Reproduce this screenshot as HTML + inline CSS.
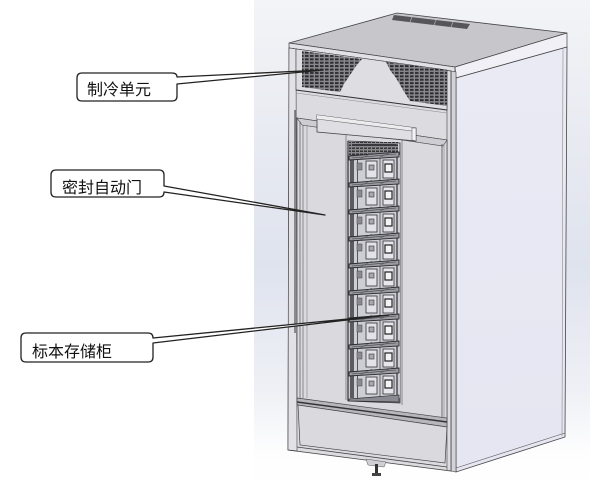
<!DOCTYPE html>
<html><head><meta charset="utf-8">
<style>
html,body{margin:0;padding:0;background:#fff;}
svg{display:block;}
text{font-family:"Liberation Sans","Noto Sans CJK SC",sans-serif;font-size:16px;fill:#111;}
</style></head><body>
<svg width="608" height="486" viewBox="0 0 608 486" xmlns="http://www.w3.org/2000/svg">
<defs>
<linearGradient id="bg" x1="0" y1="0" x2="0" y2="1">
<stop offset="0" stop-color="#f3f4f7"/>
<stop offset="0.3" stop-color="#e7eaf1"/>
<stop offset="0.55" stop-color="#dfe3ee"/>
<stop offset="0.8" stop-color="#eef0f5"/>
<stop offset="0.93" stop-color="#fdfdfe"/>
<stop offset="1" stop-color="#ffffff"/>
</linearGradient>
<linearGradient id="side" x1="0" y1="0" x2="0" y2="1">
<stop offset="0" stop-color="#eaeaf5"/>
<stop offset="1" stop-color="#e6e6f2"/>
</linearGradient>
<pattern id="vent" width="5" height="3.4" patternUnits="userSpaceOnUse">
<rect width="5" height="3.4" fill="#8a8a8e"/>
<rect x="0" y="0.6" width="3.6" height="1.9" fill="#2a2a2e"/>
</pattern>
<pattern id="mech" width="4" height="3" patternUnits="userSpaceOnUse">
<rect width="4" height="3" fill="#8a8a90"/>
<rect x="0" y="0.5" width="3" height="1.5" fill="#333"/>
</pattern>
<g id="tier">
<rect x="348" y="0" width="52" height="27" fill="#cdcdd4"/>
<rect x="350" y="0" width="4" height="27" fill="#5a5a60"/>
<rect x="357" y="0" width="1" height="27" fill="#55555b"/>
<rect x="357" y="8" width="5" height="7" fill="#8a8a90" stroke="#444" stroke-width="0.5"/>
<rect x="366" y="6" width="11" height="17" fill="#e2e2e8" stroke="#333" stroke-width="0.8"/>
<rect x="369" y="10" width="5" height="5" fill="#a8a8ae" stroke="#333" stroke-width="0.6"/>
<rect x="379" y="2" width="2" height="24" fill="#9a9aa2"/>
<rect x="383" y="5" width="11" height="18" fill="#e6e6ec" stroke="#333" stroke-width="0.8"/>
<rect x="385" y="9" width="7" height="8" fill="#f4f4f6" stroke="#222" stroke-width="1.2"/>
<rect x="396" y="0" width="2" height="27" fill="#6e6e74"/>
<polygon points="349,1 399,-3 399,2 349,5" fill="#9a9aa2" stroke="#2a2a2e" stroke-width="0.9"/>
<line x1="352" y1="3" x2="396" y2="-1" stroke="#444" stroke-width="0.6"/>
<line x1="360" y1="4" x2="372" y2="-2" stroke="#555" stroke-width="0.5"/>
<line x1="380" y1="2" x2="392" y2="-3" stroke="#555" stroke-width="0.5"/>
</g>
</defs>

<rect x="254" y="0" width="336" height="486" fill="url(#bg)"/>

<!-- lid -->
<polygon points="289,43 397,13 567,33 455,67" fill="#c6c6cb" stroke="#444" stroke-width="0.8"/>
<polygon points="394,15 470,24 467,29 392,20" fill="#55555a"/>
<line x1="412" y1="17" x2="410" y2="22" stroke="#aaa" stroke-width="0.8"/>
<line x1="436" y1="20" x2="434" y2="25" stroke="#aaa" stroke-width="0.8"/>
<line x1="453" y1="22" x2="451" y2="27" stroke="#aaa" stroke-width="0.8"/>
<polygon points="289,43 455,67 455,72 289,48" fill="#e2e2e6" stroke="#444" stroke-width="0.7"/>
<polygon points="455,67 567,33 567,47 456,78" fill="#f0f0f6" stroke="#444" stroke-width="0.7"/>

<!-- right side panel -->
<polygon points="456,78 567,47 565,437 456,472" fill="url(#side)" stroke="#444" stroke-width="0.8"/>
<line x1="456" y1="468" x2="565" y2="433" stroke="#555" stroke-width="0.6"/>
<line x1="563" y1="48" x2="562" y2="436" stroke="#777" stroke-width="0.5"/>

<!-- front corner strip -->
<polygon points="451,71 456,72 456,472 451,471" fill="#d2d2d8" stroke="#444" stroke-width="0.6"/>

<!-- front face -->
<polygon points="289,48 451,71 451,471 288,450" fill="#dcdce0" stroke="#444" stroke-width="0.8"/>
<polygon points="289,48 296,49 297,451 288,450" fill="#e2e2e6" stroke="#444" stroke-width="0.6"/>
<line x1="295" y1="110" x2="295" y2="333" stroke="#333" stroke-width="1"/>
<line x1="447" y1="70" x2="447" y2="470" stroke="#444" stroke-width="0.6"/>

<!-- refrigeration unit -->
<polygon points="296,49 447,70 447,110 296,90" fill="#dddde2" stroke="#444" stroke-width="0.6"/>
<polygon points="302,51 362,59 356,66 350,75 344,84 340,92 302,87" fill="url(#vent)"/>
<polygon points="386,62 447,70 447,106 410,101 403,90 396,78 390,70" fill="url(#vent)"/>
<line x1="296" y1="90" x2="447" y2="110" stroke="#333" stroke-width="1"/>
<line x1="296" y1="93" x2="447" y2="113" stroke="#888" stroke-width="0.5"/>

<!-- door -->
<polygon points="297,118 447,140 447,420 297,400" fill="#d9d9de" stroke="#444" stroke-width="0.7"/>
<polygon points="297,118 447,140 443,146 302,125" fill="#cdcdd3" stroke="#444" stroke-width="0.6"/>
<line x1="300" y1="122" x2="300" y2="400" stroke="#444" stroke-width="0.6"/>
<line x1="303" y1="125" x2="303" y2="398" stroke="#555" stroke-width="0.6"/>
<line x1="307" y1="126" x2="307" y2="398" stroke="#777" stroke-width="0.5"/>
<line x1="346" y1="131" x2="346" y2="400" stroke="#555" stroke-width="0.6"/>
<line x1="402" y1="138" x2="402" y2="405" stroke="#555" stroke-width="0.6"/>
<line x1="442" y1="144" x2="442" y2="417" stroke="#444" stroke-width="0.7"/>
<line x1="444" y1="145" x2="444" y2="418" stroke="#777" stroke-width="0.5"/>

<!-- rack opening -->
<polygon points="348,141 400,143 400,403 348,401" fill="#cfcfd6" stroke="#333" stroke-width="0.8"/>
<rect x="349" y="142" width="49" height="13" fill="url(#mech)"/>
<rect x="352" y="144" width="44" height="2" fill="#3a3a3e"/>
<use href="#tier" transform="translate(0,155)"/>
<use href="#tier" transform="translate(0,182)"/>
<use href="#tier" transform="translate(0,209)"/>
<use href="#tier" transform="translate(0,236)"/>
<use href="#tier" transform="translate(0,263)"/>
<use href="#tier" transform="translate(0,290)"/>
<use href="#tier" transform="translate(0,317)"/>
<use href="#tier" transform="translate(0,344)"/>
<use href="#tier" transform="translate(0,371)"/>
<polygon points="349,399 399,395 399,402 349,401" fill="#8a8a92" stroke="#333" stroke-width="0.7"/>
<line x1="348" y1="141" x2="348" y2="401" stroke="#333" stroke-width="1.2"/>

<!-- handle -->
<polygon points="317,115 416,128 416,141 317,132" fill="#dedee3" stroke="#444" stroke-width="0.8"/>
<polygon points="317,115 416,128 412,131 317,119" fill="#ececef"/>
<line x1="317" y1="119" x2="412" y2="131" stroke="#666" stroke-width="0.6"/>
<polygon points="412,128 416,128 416,141 412,140" fill="#f4f4f6" stroke="#555" stroke-width="0.5"/>

<!-- bottom -->
<polygon points="297,398 447,418 447,427 297,405" fill="#b6b6bc" stroke="#444" stroke-width="0.7"/>
<line x1="297" y1="402" x2="447" y2="422" stroke="#333" stroke-width="1.4"/>
<polygon points="298,405 447,427 445,463 300,445" fill="#dadade" stroke="#444" stroke-width="0.7"/>
<line x1="297" y1="447" x2="447" y2="467" stroke="#444" stroke-width="0.8"/>
<line x1="288" y1="450" x2="297" y2="451" stroke="#444" stroke-width="0.8"/>

<!-- foot -->
<polygon points="366,459 386,462 384,467 368,465" fill="#d0d0d4" stroke="#555" stroke-width="0.5"/>
<rect x="375" y="464" width="3" height="10" fill="#333"/>
<rect x="372" y="473" width="9" height="3" fill="#444"/>

<!-- callouts -->
<path d="M82,73 H172 Q177,73 177,77 L323,70 L177,84 V96 Q177,101 172,101 H82 Q77,101 77,96 V78 Q77,73 82,73 Z" fill="#fff" stroke="#222" stroke-width="1.3" stroke-linejoin="round"/>
<text x="87" y="95">制冷单元</text>

<path d="M56,170 H159 Q164,170 164,175 V186 L325,215 L164,192 Q164,197 159,197 H56 Q51,197 51,192 V175 Q51,170 56,170 Z" fill="#fff" stroke="#222" stroke-width="1.3" stroke-linejoin="round"/>
<text x="62" y="193">密封自动门</text>

<path d="M26,333 H148 Q153,333 153,338 L389,315 L153,343 V357 Q153,362 148,362 H26 Q21,362 21,357 V338 Q21,333 26,333 Z" fill="#fff" stroke="#222" stroke-width="1.3" stroke-linejoin="round"/>
<text x="32" y="357">标本存储柜</text>
</svg>
</body></html>
